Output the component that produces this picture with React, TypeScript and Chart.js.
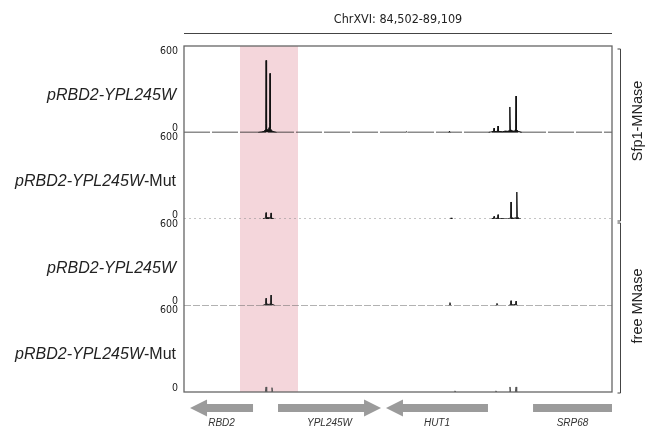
import React, { useEffect, useRef } from 'react';
import { Chart, registerables } from 'chart.js';

Chart.register(...registerables);

const regionStart = 84502;
const regionEnd = 89109;
const regionTitle = 'ChrXVI: 84,502-89,109';
const highlightStart = 85105;
const highlightEnd = 85729;

const trackNames = ['pRBD2-YPL245W', 'pRBD2-YPL245W', 'pRBD2-YPL245W', 'pRBD2-YPL245W'];
const trackSuffixes = ['', '-Mut', '', '-Mut'];
const yTicks = [0, 600];
const groupNames = ['Sfp1-MNase', 'free MNase'];

// Sfp1-MNase, pRBD2-YPL245W
const track1Pos = [
  85300, 85340, 85365, 85378, 85382, 85385, 85388, 85394, 85410, 85422, 85425, 85428, 85431, 85445, 85470, 85500, 85510,
  86890, 86900, 86910, 86920,
  87350, 87360, 87370, 87380,
  87780, 87815, 87836, 87839, 87842, 87870, 87879, 87882, 87885, 87930, 87960, 87990, 88005, 88008, 88011, 88014, 88035, 88060, 88073, 88076, 88079, 88100, 88140,
];
const track1Val = [
  0, 4, 8, 20, 60, 500, 40, 18, 20, 40, 70, 410, 30, 12, 5, 0, null,
  0, 6, 0, null,
  0, 8, 0, null,
  0, 5, 8, 30, 6, 8, 10, 45, 8, 5, 10, 8, 15, 30, 177, 20, 12, 8, 25, 253, 20, 8, 0,
];

// Sfp1-MNase, pRBD2-YPL245W-Mut
const track2Pos = [
  85350, 85375, 85381, 85385, 85389, 85420, 85435, 85439, 85443, 85470, 85480,
  87366, 87376, 87386, 87390,
  87810, 87834, 87839, 87844, 87870, 87878, 87882, 87886, 87900, 87990, 88010, 88019, 88022, 88025, 88050, 88076, 88083, 88086, 88089, 88110, 88130,
];
const track2Val = [
  0, 6, 10, 44, 10, 8, 12, 42, 8, 0, null,
  0, 8, 0, null,
  0, 5, 18, 4, 5, 6, 30, 5, 3, 0, 6, 12, 118, 10, 5, 8, 20, 187, 15, 3, 0,
];

// free MNase, pRBD2-YPL245W
const track3Pos = [
  85350, 85372, 85381, 85385, 85389, 85420, 85430, 85436, 85439, 85442, 85460, 85480, 85490,
  87350, 87362, 87365, 87368, 87380, 87390,
  87855, 87868, 87871, 87874, 87890, 87900,
  87995, 88015, 88019, 88022, 88025, 88050, 88073, 88076, 88079, 88095,
];
const track3Val = [
  0, 6, 12, 50, 12, 6, 15, 20, 72, 10, 6, 0, null,
  0, 6, 20, 5, 0, null,
  0, 4, 15, 4, 0, null,
  0, 5, 8, 33, 5, 5, 8, 30, 5, 0,
];

// free MNase, pRBD2-YPL245W-Mut
const track4Pos = [
  85378, 85385, 85392, 85395,
  85442, 85449, 85456, 85460,
  87412, 87419, 87426, 87430,
  87853, 87860, 87867, 87870,
  88004, 88011, 88018, 88020,
  88069, 88076, 88083,
];
const track4Val = [
  0, 35, 0, null,
  0, 30, 0, null,
  0, 8, 0, null,
  0, 8, 0, null,
  0, 35, 0, null,
  0, 35, 0,
];

const geneNames = ['RBD2', 'YPL245W', 'HUT1', 'SRP68'];
const geneStarts = [84567, 85514, 86676, 88259];
const geneEnds = [85245, 86623, 87774, 89109];
const geneStrands = ['-', '+', '-', ''];

const trackPositions = [track1Pos, track2Pos, track3Pos, track4Pos];
const trackValues = [track1Val, track2Val, track3Val, track4Val];
const signalColors = ['#111111', '#1a1a1a', '#222222', '#555555'];
const baselineColors = ['#1a1a1a', '#888888', '#666666', 'rgba(0,0,0,0)'];
const baselineWidths = [1.3, 1, 1, 1];
const baselineDash = [[26, 2], [2, 3], [7, 2], [1, 30]];
const axisIds = ['y1', 'y2', 'y3', 'y4'];

const labelFont = '"Liberation Sans", Arial, sans-serif';
const narrowFont = '"DejaVu Sans Condensed", "Liberation Sans", sans-serif';

const decorPlugin = {
  id: 'decor',
  beforeDatasetsDraw(chart: any) {
    const { ctx, chartArea } = chart;
    const x = chart.scales.x;
    const x0 = x.getPixelForValue(highlightStart);
    const x1 = x.getPixelForValue(highlightEnd);
    ctx.save();
    ctx.fillStyle = '#f4d6db';
    ctx.fillRect(x0, chartArea.top, x1 - x0, chartArea.bottom - chartArea.top);
    ctx.restore();
  },
  afterDraw(chart: any) {
    const { ctx, chartArea } = chart;
    const xs = chart.scales.x;
    const ys = axisIds.map((id) => chart.scales[id]);
    ctx.save();

    // frame
    ctx.strokeStyle = '#666';
    ctx.lineWidth = 1.3;
    ctx.strokeRect(chartArea.left, chartArea.top, chartArea.right - chartArea.left, chartArea.bottom - chartArea.top);

    // title and line
    ctx.fillStyle = '#222';
    ctx.font = `12.5px ${narrowFont}`;
    ctx.textAlign = 'center';
    ctx.textBaseline = 'middle';
    ctx.fillText(regionTitle, (chartArea.left + chartArea.right) / 2, 20);
    ctx.strokeStyle = '#444';
    ctx.lineWidth = 1;
    ctx.beginPath();
    ctx.moveTo(chartArea.left, 33.5);
    ctx.lineTo(chartArea.right, 33.5);
    ctx.stroke();

    // y tick labels
    ctx.font = `10.5px ${narrowFont}`;
    ctx.textAlign = 'right';
    ctx.fillStyle = '#222';
    ys.forEach((s: any) => {
      yTicks.forEach((t) => {
        const py = s.getPixelForValue(t);
        const dy = t === 0 ? -4 : 5;
        ctx.fillText(String(t), chartArea.left - 6, py + dy);
      });
    });

    // track labels
    ctx.textBaseline = 'middle';
    const labelX = chartArea.left - 8;
    ys.forEach((s: any, i: number) => {
      const cy = (s.top + s.bottom) / 2 + 6;
      let xr = labelX;
      if (trackSuffixes[i]) {
        ctx.font = `16px ${labelFont}`;
        ctx.textAlign = 'right';
        ctx.fillText(trackSuffixes[i], xr, cy);
        xr -= ctx.measureText(trackSuffixes[i]).width;
      }
      ctx.font = `italic 16px ${labelFont}`;
      ctx.textAlign = 'right';
      ctx.fillText(trackNames[i], xr, cy);
    });

    // group brackets
    const bx = chartArea.right + 8.5;
    const groups = [
      [chartArea.top + 3, ys[1].bottom + 2],
      [ys[2].top + 4, chartArea.bottom + 1],
    ];
    const shifts = [-14, -2];
    ctx.strokeStyle = '#444';
    ctx.lineWidth = 1;
    groups.forEach((g, i) => {
      ctx.beginPath();
      ctx.moveTo(bx - 3, g[0]);
      ctx.lineTo(bx, g[0]);
      ctx.lineTo(bx, g[1]);
      ctx.lineTo(bx - 3, g[1]);
      ctx.stroke();
      ctx.save();
      ctx.translate(bx + 17, (g[0] + g[1]) / 2 + shifts[i]);
      ctx.rotate(-Math.PI / 2);
      ctx.font = `14.5px ${labelFont}`;
      ctx.textAlign = 'center';
      ctx.textBaseline = 'middle';
      ctx.fillStyle = '#222';
      ctx.fillText(groupNames[i], 0, 0);
      ctx.restore();
    });

    // genes
    const gy = 408;
    const half = 4;
    const headHalf = 8.5;
    const headLen = 17;
    ctx.fillStyle = '#9b9b9b';
    geneNames.forEach((name, i) => {
      const a = xs.getPixelForValue(geneStarts[i]);
      const b = xs.getPixelForValue(geneEnds[i]);
      ctx.beginPath();
      if (geneStrands[i] === '+') {
        ctx.moveTo(a, gy - half);
        ctx.lineTo(b - headLen, gy - half);
        ctx.lineTo(b - headLen, gy - headHalf);
        ctx.lineTo(b, gy);
        ctx.lineTo(b - headLen, gy + headHalf);
        ctx.lineTo(b - headLen, gy + half);
        ctx.lineTo(a, gy + half);
      } else if (geneStrands[i] === '-') {
        ctx.moveTo(b, gy - half);
        ctx.lineTo(a + headLen, gy - half);
        ctx.lineTo(a + headLen, gy - headHalf);
        ctx.lineTo(a, gy);
        ctx.lineTo(a + headLen, gy + headHalf);
        ctx.lineTo(a + headLen, gy + half);
        ctx.lineTo(b, gy + half);
      } else {
        ctx.rect(a, gy - half, b - a, half * 2);
      }
      ctx.closePath();
      ctx.fill();
    });
    ctx.fillStyle = '#333';
    ctx.font = `italic 10px ${labelFont}`;
    ctx.textAlign = 'center';
    ctx.textBaseline = 'middle';
    geneNames.forEach((name, i) => {
      const a = xs.getPixelForValue(geneStarts[i]);
      const b = xs.getPixelForValue(geneEnds[i]);
      ctx.fillText(name, (a + b) / 2, 423);
    });

    ctx.restore();
  },
};

export default function App() {
  const ref = useRef<HTMLCanvasElement | null>(null);
  useEffect(() => {
    if (!ref.current) return;
    const datasets: any[] = [];
    trackPositions.forEach((pos, i) => {
      const axis = axisIds[i];
      datasets.push({
        data: [{ x: regionStart, y: 0 }, { x: regionEnd, y: 0 }],
        yAxisID: axis,
        borderColor: baselineColors[i],
        borderWidth: baselineWidths[i],
        borderDash: baselineDash[i],
        pointRadius: 0,
        fill: false,
      });
      datasets.push({
        data: pos.map((p, k) => ({ x: p, y: trackValues[i][k] })),
        yAxisID: axis,
        borderColor: signalColors[i],
        backgroundColor: signalColors[i],
        borderWidth: 1,
        pointRadius: 0,
        fill: 'origin',
        spanGaps: false,
      });
    });
    const yScale = () => ({
      type: 'linear',
      min: yTicks[0],
      max: yTicks[yTicks.length - 1],
      stack: 'tracks',
      stackWeight: 1,
      position: 'left',
      display: false,
    });
    // left-side stacked axes are placed in reverse order, so list the bottom track first
    const scales: any = { x: { type: 'linear', min: regionStart, max: regionEnd, display: false } };
    [...axisIds].reverse().forEach((id) => {
      scales[id] = yScale();
    });
    const chart = new Chart(ref.current, {
      type: 'line',
      data: { datasets },
      options: {
        animation: false,
        responsive: false,
        maintainAspectRatio: false,
        layout: { padding: { left: 184, right: 40, top: 46, bottom: 40 } },
        scales,
        elements: { line: { tension: 0 }, point: { radius: 0 } },
        plugins: { legend: { display: false }, tooltip: { enabled: false }, title: { display: false } },
      },
      plugins: [decorPlugin],
    } as any);
    return () => chart.destroy();
  }, []);
  return (
    <div style={{ position: 'fixed', left: 0, top: 0, width: 652, height: 432, background: '#fff' }}>
      <canvas ref={ref} width={652} height={432} style={{ display: 'block' }} />
    </div>
  );
}
